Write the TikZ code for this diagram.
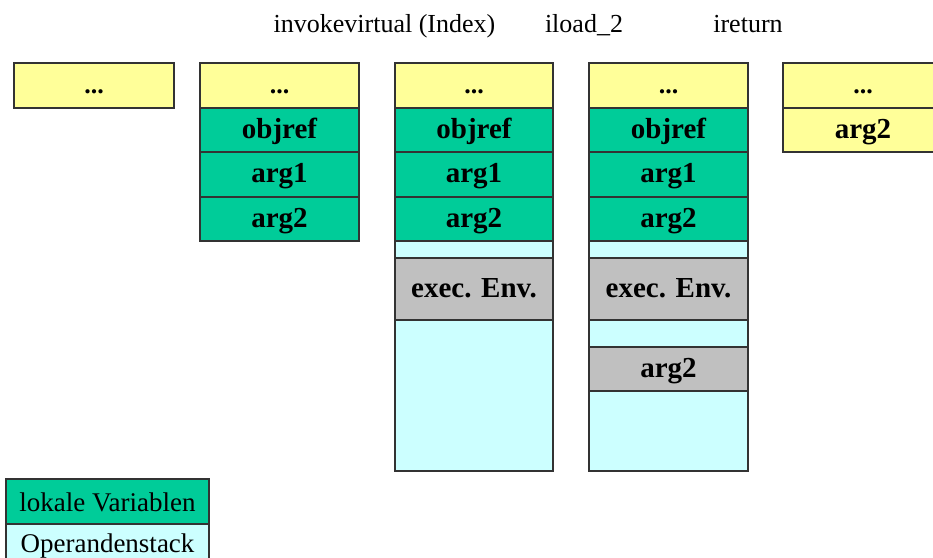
\documentclass[tikz,border=0pt]{standalone}
\usepackage{fontspec}
\setmainfont{Liberation Serif}
\definecolor{cyel}{HTML}{FFFF99}
\definecolor{cgrn}{HTML}{00CC99}
\definecolor{ccya}{HTML}{CCFFFF}
\definecolor{cgry}{HTML}{C0C0C0}
\definecolor{cbrd}{HTML}{333333}
\newcommand{\cellbox}[7]{%
  \node[cellstyle,#6,anchor=north west,minimum width=#4pt-#2pt,minimum height=#5pt-#3pt] (#1) at (#2,#3) {#7};}
\begin{document}
\begin{tikzpicture}[x=1pt,y=-1pt,
  cellstyle/.style={draw=cbrd,line width=1.2pt,inner sep=0pt,outer sep=0pt,text height=16pt,text depth=0pt,font=\fontsize{29}{30}\selectfont\bfseries},
  yel/.style={fill=cyel},
  grn/.style={fill=cgrn},
  cya/.style={fill=ccya},
  gry/.style={fill=cgry},
  dots/.style={font=\fontsize{26}{28}\selectfont\bfseries},
  lbl/.style={font=\fontsize{26}{28}\selectfont,anchor=base,inner sep=0pt},
  leg/.style={cellstyle,text height=20pt,font=\fontsize{27}{28}\selectfont\mdseries}]
\useasboundingbox (0,0) rectangle (933,557);
\clip (0,0) rectangle (933,557);
\fill[white] (0,0) rectangle (933,557);
% titles
\node[lbl] (t1) at (384.5,32) {invokevirtual (Index)};
\node[lbl] (t2) at (584,32) {iload\_2};
\node[lbl] (t3) at (748,32) {ireturn};
% column 1
\cellbox{a0}{14}{63}{174}{108}{yel,dots}{...}
% column 2
\cellbox{b0}{200}{63}{359}{108}{yel,dots}{...}
\cellbox{b1}{200}{108}{359}{152}{grn}{objref}
\cellbox{b2}{200}{152}{359}{197}{grn}{arg1}
\cellbox{b3}{200}{197}{359}{241}{grn}{arg2}
% column 3
\cellbox{c0}{395}{63}{553}{108}{yel,dots}{...}
\cellbox{c1}{395}{108}{553}{152}{grn}{objref}
\cellbox{c2}{395}{152}{553}{197}{grn}{arg1}
\cellbox{c3}{395}{197}{553}{241}{grn}{arg2}
\cellbox{c4}{395}{241}{553}{258}{cya}{}
\cellbox{c5}{395}{258}{553}{320}{gry}{exec. Env.}
\cellbox{c6}{395}{320}{553}{471}{cya}{}
% column 4
\cellbox{d0}{589}{63}{748}{108}{yel,dots}{...}
\cellbox{d1}{589}{108}{748}{152}{grn}{objref}
\cellbox{d2}{589}{152}{748}{197}{grn}{arg1}
\cellbox{d3}{589}{197}{748}{241}{grn}{arg2}
\cellbox{d4}{589}{241}{748}{258}{cya}{}
\cellbox{d5}{589}{258}{748}{320}{gry}{exec. Env.}
\cellbox{d6}{589}{320}{748}{347}{cya}{}
\cellbox{d7}{589}{347}{748}{391}{gry}{arg2}
\cellbox{d8}{589}{391}{748}{471}{cya}{}
% column 5
\cellbox{e0}{783}{63}{943}{108}{yel,dots}{...}
\cellbox{e1}{783}{108}{943}{152}{yel}{arg2}
% legend
\node[leg,fill=cgrn,anchor=north west,minimum width=203pt,minimum height=45pt] (l1) at (6,479) {lokale Variablen};
\node[leg,fill=ccya,anchor=north west,minimum width=203pt,minimum height=36pt] (l2) at (6,524) {Operandenstack};
\end{tikzpicture}
\end{document}
